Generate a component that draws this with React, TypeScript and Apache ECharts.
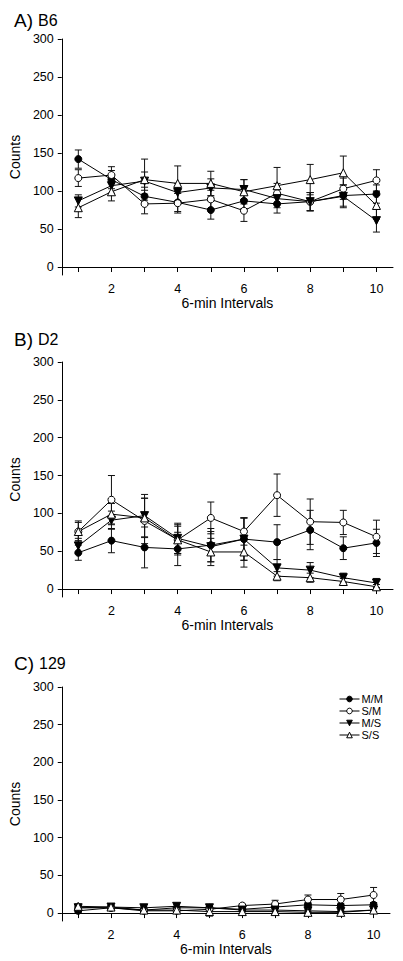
import React, { useEffect, useRef } from "react";
import * as echarts from "echarts";

const intervals = [1, 2, 3, 4, 5, 6, 7, 8, 9, 10];
const groups = ["M/M", "S/M", "M/S", "S/S"];
const panelTitles = [["A)", "B6"], ["B)", "D2"], ["C)", "129"]];
const yTicks = [0, 50, 100, 150, 200, 250, 300];
const xTicks = [1, 2, 3, 4, 5, 6, 7, 8, 9, 10];
const xLabels = [2, 4, 6, 8, 10];

// Panel A: B6
const b6MM = [142, 115, 93, 85, 75, 87, 83, 86, 94, 96];
const b6MMErr = [12, 12, 12, 12, 12, 10, 12, 12, 14, 12];
const b6SM = [117, 121, 83, 84, 89, 74, 97, 86, 103, 114];
const b6SMErr = [11, 11, 13, 13, 12, 14, 13, 12, 14, 14];
const b6MS = [87, 107, 113, 98, 104, 102, 90, 86, 93, 61];
const b6MSErr = [8, 10, 12, 12, 12, 13, 12, 12, 15, 15];
const b6SS = [78, 99, 115, 110, 110, 99, 107, 115, 124, 81];
const b6SSErr = [13, 12, 27, 23, 16, 16, 24, 20, 22, 18];

// Panel B: D2
const d2MM = [48, 64, 55, 53, 58, 66, 62, 78, 54, 61];
const d2MMErr = [10, 16, 27, 22, 22, 28, 23, 26, 15, 18];
const d2SM = [76, 118, 90, 65, 94, 76, 124, 89, 88, 69];
const d2SMErr = [14, 32, 30, 20, 21, 18, 28, 30, 16, 22];
const d2MS = [57, 91, 97, 67, 56, 66, 28, 25, 15, 8];
const d2MSErr = [10, 12, 28, 20, 20, 28, 11, 10, 6, 6];
const d2SS = [76, 99, 94, 65, 49, 49, 17, 15, 10, 3];
const d2SSErr = [12, 14, 26, 18, 18, 20, 6, 6, 4, 3];

// Panel C: 129
const s129MM = [3, 7, 4, 7, 7, 5, 8, 11, 10, 11];
const s129MMErr = [2, 2, 2, 2, 2, 2, 2, 3, 3, 3];
const s129SM = [7, 7, 3, 3, 5, 10, 12, 18, 18, 24];
const s129SMErr = [2, 2, 2, 2, 2, 2, 5, 6, 8, 10];
const s129MS = [7, 8, 7, 9, 7, 4, 4, 3, 2, 4];
const s129MSErr = [3, 2, 2, 3, 3, 2, 2, 2, 1, 2];
const s129SS = [9, 8, 4, 4, 2, 2, 2, 1, 1, 4];
const s129SSErr = [3, 2, 2, 3, 6, 2, 2, 1, 1, 2];

const panels = [
  [[b6MM, b6MMErr], [b6SM, b6SMErr], [b6MS, b6MSErr], [b6SS, b6SSErr]],
  [[d2MM, d2MMErr], [d2SM, d2SMErr], [d2MS, d2MSErr], [d2SS, d2SSErr]],
  [[s129MM, s129MMErr], [s129SM, s129SMErr], [s129MS, s129MSErr], [s129SS, s129SSErr]],
];

const FONT = "'Liberation Sans', Arial, Helvetica, sans-serif";

const markerStyles = [
  { symbol: "circle", size: 7, fill: "#000" },
  { symbol: "circle", size: 7, fill: "#fff" },
  { symbol: "triangle", size: 8, fill: "#000", rotate: 180 },
  { symbol: "triangle", size: 8, fill: "#fff", rotate: 0 },
];

const grids = [
  { left: 58, width: 335, top: 39, height: 236 },
  { left: 57, width: 336, top: 362, height: 235 },
  { left: 57, width: 333, top: 687, height: 234 },
];
const titleTops = [6, 325, 649];

export default function App() {
  const ref = useRef<HTMLDivElement>(null);
  useEffect(() => {
    if (!ref.current) return;
    const chart = echarts.init(ref.current, undefined, { renderer: "svg" });

    const xAxis: any[] = [];
    const yAxis: any[] = [];
    const series: any[] = [];
    const title: any[] = [];

    grids.forEach((g, pi) => {
      xAxis.push({
        type: "value",
        gridIndex: pi,
        min: 0.5,
        max: 10.5,
        name: "6-min Intervals",
        nameLocation: "middle",
        nameGap: 20,
        nameTextStyle: { fontFamily: FONT, fontSize: 14, color: "#000" },
        axisLine: { show: true, lineStyle: { color: "#000", width: 1 } },
        axisTick: { show: true, length: 5, customValues: xTicks, lineStyle: { color: "#000" } },
        axisLabel: { customValues: xLabels, fontFamily: FONT, fontSize: 12.5, color: "#000", margin: 7 },
        splitLine: { show: false },
      });
      yAxis.push({
        type: "value",
        gridIndex: pi,
        min: -10.5,
        max: 300,
        name: "Counts",
        nameLocation: "middle",
        nameGap: 35,
        nameTextStyle: { fontFamily: FONT, fontSize: 14, color: "#000" },
        axisLine: { show: true, lineStyle: { color: "#000", width: 1 } },
        axisTick: { show: true, length: 4, customValues: yTicks, lineStyle: { color: "#000" } },
        axisLabel: { customValues: yTicks, fontFamily: FONT, fontSize: 12.5, color: "#000", margin: 8 },
        splitLine: { show: false },
      });
      title.push({
        left: 9,
        top: titleTops[pi],
        text: `{a|${panelTitles[pi][0]}} {b|${panelTitles[pi][1]}}`,
        textStyle: {
          fontWeight: "normal",
          rich: {
            a: { fontFamily: FONT, fontSize: 19, fontWeight: "normal", color: "#000" },
            b: { fontFamily: FONT, fontSize: 16, fontWeight: "normal", color: "#000" },
          },
        },
      });
      panels[pi].forEach(([vals, errs], gi) => {
        series.push({
          type: "custom",
          name: "err-" + pi + "-" + gi,
          xAxisIndex: pi,
          yAxisIndex: pi,
          z: 1,
          silent: true,
          data: intervals.map((x, i) => [x, vals[i] - errs[i], vals[i] + errs[i]]),
          encode: { x: 0, y: [1, 2] },
          renderItem: (params: any, api: any) => {
            const x = api.value(0);
            const lo = api.value(1);
            const hi = api.value(2);
            const p1 = api.coord([x, hi]);
            const p2 = api.coord([x, lo]);
            const w = 3.5;
            const st = { stroke: "#111", lineWidth: 1 };
            return {
              type: "group",
              children: [
                { type: "line", shape: { x1: p1[0], y1: p1[1], x2: p2[0], y2: p2[1] }, style: st },
                { type: "line", shape: { x1: p1[0] - w, y1: p1[1], x2: p1[0] + w, y2: p1[1] }, style: st },
                { type: "line", shape: { x1: p2[0] - w, y1: p2[1], x2: p2[0] + w, y2: p2[1] }, style: st },
              ],
            };
          },
        });
        const m = markerStyles[gi];
        series.push({
          type: "line",
          name: groups[gi],
          xAxisIndex: pi,
          yAxisIndex: pi,
          z: 3,
          data: intervals.map((x, i) => [x, vals[i]]),
          symbol: m.symbol,
          symbolSize: m.size,
          symbolRotate: m.rotate || 0,
          showAllSymbol: true,
          lineStyle: { color: "#000", width: 1 },
          itemStyle: { color: m.fill, borderColor: "#000", borderWidth: 1 },
          emphasis: { disabled: true },
        });
      });
    });

    chart.setOption({
      animation: false,
      backgroundColor: "#fff",
      title,
      grid: grids,
      xAxis,
      yAxis,
      series,
      legend: {
        data: groups,
        orient: "vertical",
        left: 339,
        top: 693,
        padding: 0,
        itemWidth: 20,
        itemHeight: 7,
        itemGap: 0,
        selectedMode: false,
        lineStyle: { width: 1 },
        itemStyle: { borderWidth: 1 },
        textStyle: { fontFamily: FONT, fontSize: 11, lineHeight: 12, color: "#000", padding: [0, 0, 0, -3] },
      },
    });
    return () => chart.dispose();
  }, []);
  return (
    <div
      ref={ref}
      style={{ position: "fixed", left: 0, top: 0, width: 403, height: 961, background: "#fff" }}
    />
  );
}
